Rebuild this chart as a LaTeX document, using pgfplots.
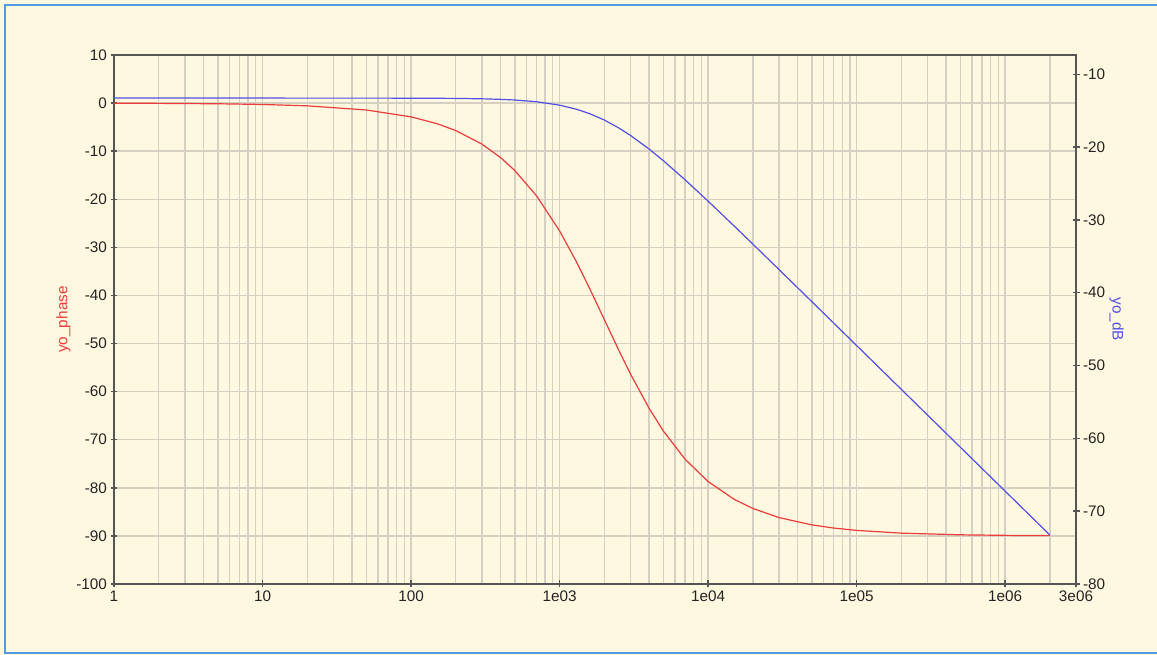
\documentclass[border=0pt]{standalone}
\usepackage{pgfplots}
\pgfplotsset{compat=1.18}
\usepackage{fontspec}
\setmainfont{Liberation Sans}
\definecolor{bg}{RGB}{254,248,224}
\definecolor{frameblue}{RGB}{80,155,225}
\definecolor{gridc}{RGB}{214,208,194}
\definecolor{axc}{RGB}{85,85,85}
\definecolor{labc}{RGB}{35,35,35}
\definecolor{phred}{RGB}{235,60,60}
\definecolor{dbblue}{RGB}{80,80,230}
\newcommand{\tfont}{\fontsize{15.3}{18}\selectfont}

\pgfplotstableread{
f phase
1 -0.029
2 -0.057
5 -0.143
10 -0.286
20 -0.573
50 -1.432
100 -2.862
150 -4.289
200 -5.711
300 -8.531
400 -11.310
500 -14.036
700 -19.290
1000 -26.565
1300 -33.024
1600 -38.660
2000 -45.000
2500 -51.340
3000 -56.310
4000 -63.435
5000 -68.199
7000 -74.055
10000 -78.690
15000 -82.405
20000 -84.289
30000 -86.186
50000 -87.709
70000 -88.363
100000 -88.854
200000 -89.427
500000 -89.771
1000000 -89.885
2000000 -89.943
}\phasetable

\pgfplotstableread{
f db
1 -13.270
10 -13.270
50 -13.273
100 -13.281
200 -13.313
300 -13.367
400 -13.440
500 -13.533
700 -13.772
1000 -14.239
1300 -14.800
1600 -15.418
2000 -16.280
2500 -17.357
3000 -18.389
4000 -20.260
5000 -21.873
7000 -24.492
10000 -27.420
15000 -30.848
20000 -33.313
30000 -36.811
50000 -41.236
70000 -44.155
100000 -47.251
200000 -53.270
500000 -61.229
1000000 -67.249
2000000 -73.270
}\dbtable

\begin{document}
\begin{tikzpicture}[x=1pt,y=1pt]
\useasboundingbox (0,0) rectangle (1157,655);
\fill[bg] (0,0) rectangle (1157,655);
\draw[frameblue, line width=2pt] (5,2) rectangle (1170,650);
\begin{axis}[
  at={(114pt,71pt)}, anchor=south west, scale only axis,
  width=962pt, height=529pt,
  xmode=log, log basis x=10,
  xmin=1, xmax=3e6, ymin=-100, ymax=10,
  xtick={1,10,100,1000,10000,100000,1000000,3000000},
  xticklabels={1,10,100,1e03,1e04,1e05,1e06,3e06},
  minor xtick={2,3,4,5,6,7,8,9,20,30,40,50,60,70,80,90,200,300,400,500,600,700,800,900,2000,3000,4000,5000,6000,7000,8000,9000,20000,30000,40000,50000,60000,70000,80000,90000,200000,300000,400000,500000,600000,700000,800000,900000,2000000},
  ytick={-100,-90,-80,-70,-60,-50,-40,-30,-20,-10,0,10},
  yticklabels={-100,-90,-80,-70,-60,-50,-40,-30,-20,-10,0,10},
  xtick pos=left, ytick pos=left,
  tick align=center, major tick length=7pt, minor tick length=0pt,
  xmajorgrids, xminorgrids, ymajorgrids,
  major grid style={gridc, line width=1.4pt},
  minor grid style={gridc, line width=1.4pt},
  axis line style={axc, line width=1.5pt},
  major tick style={axc, line width=1.5pt},
  tick label style={font=\tfont, text=labc},
  ylabel={yo\_phase},
  ylabel style={at={(axis description cs:-0.0527,0.5)}, anchor=center, text=phred, font=\tfont},
  axis background/.style={fill=bg},
]
\addplot[phred, line width=1.2pt, no marks] table[x=f, y=phase] {\phasetable};
\end{axis}
\begin{axis}[
  at={(114pt,71pt)}, anchor=south west, scale only axis,
  width=962pt, height=529pt,
  xmode=log, log basis x=10,
  xmin=1, xmax=3e6, ymin=-80, ymax=-7.35,
  axis x line=none, axis y line*=right,
  ytick={-80,-70,-60,-50,-40,-30,-20,-10},
  yticklabels={-80,-70,-60,-50,-40,-30,-20,-10},
  tick align=center, major tick length=7pt, minor tick length=0pt,
  axis line style={axc, line width=1.5pt},
  major tick style={axc, line width=1.5pt},
  tick label style={font=\tfont, text=labc},
  ylabel={yo\_dB},
  ylabel style={at={(axis description cs:1.0423,0.5)}, anchor=center, rotate=180, text=dbblue, font=\tfont},
]
\addplot[dbblue, line width=1.2pt, no marks] table[x=f, y=db] {\dbtable};
\end{axis}
\end{tikzpicture}
\end{document}
